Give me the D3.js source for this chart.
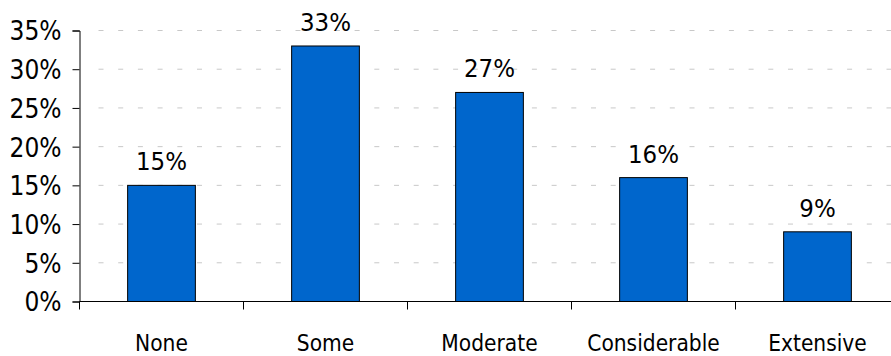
<!DOCTYPE html>
<html>
<head>
<meta charset="utf-8">
<script src="https://cdn.jsdelivr.net/npm/d3@7"></script>
<style>
  html, body { margin: 0; padding: 0; background: #fff; overflow: hidden; }
  svg { display: block; }
  text { font-family: "DejaVu Sans Condensed", "Liberation Sans", sans-serif; fill: #000; }
</style>
</head>
<body>
<svg id="chart" width="891" height="356"></svg>
<script>
// Share of respondents by level
const categories = ["None", "Some", "Moderate", "Considerable", "Extensive"];
const values = [15, 33, 27, 16, 9];
const yTicks = [0, 5, 10, 15, 20, 25, 30, 35];

const svg = d3.select("#chart");
const plotLeft = 79.5, plotRight = 899.5, plotTop = 30.5, plotBottom = 301.5;

const x = d3.scaleBand().domain(categories).range([plotLeft, plotRight]).padding(0);
const y = d3.scaleLinear().domain([0, 35]).range([plotBottom, plotTop]);

// Dashed horizontal gridlines (skip the baseline)
svg.append("g")
  .selectAll("line")
  .data(yTicks.filter(d => d > 0))
  .join("line")
  .attr("x1", plotLeft + 19).attr("x2", 891)
  .attr("y1", d => y(d)).attr("y2", d => y(d))
  .attr("stroke", "#c8c8c8")
  .attr("stroke-width", 1)
  .attr("stroke-dasharray", "5,14.7");

// Bars
const barW = x.bandwidth() * 0.413;
svg.append("g")
  .selectAll("rect")
  .data(values)
  .join("rect")
  .attr("x", (d, i) => x(categories[i]) + (x.bandwidth() - barW) / 2)
  .attr("y", d => y(d))
  .attr("width", barW)
  .attr("height", d => y(0) - y(d))
  .attr("fill", "#0066cc")
  .attr("stroke", "#000")
  .attr("stroke-width", 1);

// Value labels above bars
svg.append("g")
  .selectAll("text")
  .data(values)
  .join("text")
  .attr("x", (d, i) => x(categories[i]) + x.bandwidth() / 2)
  .attr("y", d => y(d) - 15)
  .attr("text-anchor", "middle")
  .style("font-size", "25.5px")
  .text(d => d + "%");

// Y axis
const yAxis = d3.axisLeft(y).tickValues(yTicks).tickSize(7).tickPadding(11)
  .tickFormat(d => d + "%");
const gy = svg.append("g").attr("transform", `translate(${plotLeft},0)`).call(yAxis);
gy.attr("font-family", null).attr("font-size", null);
gy.select(".domain").attr("stroke", "#000");
gy.selectAll(".tick line").attr("stroke", "#000");
gy.selectAll(".tick text")
  .style("font-size", "26px")
  .attr("fill", "#000")
  .attr("dy", "0.36em");

// X axis: baseline plus category boundary ticks
svg.append("line")
  .attr("x1", plotLeft).attr("x2", 891)
  .attr("y1", plotBottom).attr("y2", plotBottom)
  .attr("stroke", "#000");

svg.append("g")
  .selectAll("line")
  .data(categories)
  .join("line")
  .attr("x1", d => x(d)).attr("x2", d => x(d))
  .attr("y1", plotBottom).attr("y2", plotBottom + 8)
  .attr("stroke", "#000");

svg.append("g")
  .selectAll("text")
  .data(categories)
  .join("text")
  .attr("x", d => x(d) + x.bandwidth() / 2)
  .attr("y", 350.5)
  .attr("text-anchor", "middle")
  .style("font-size", "22.5px")
  .text(d => d);
</script>
</body>
</html>
